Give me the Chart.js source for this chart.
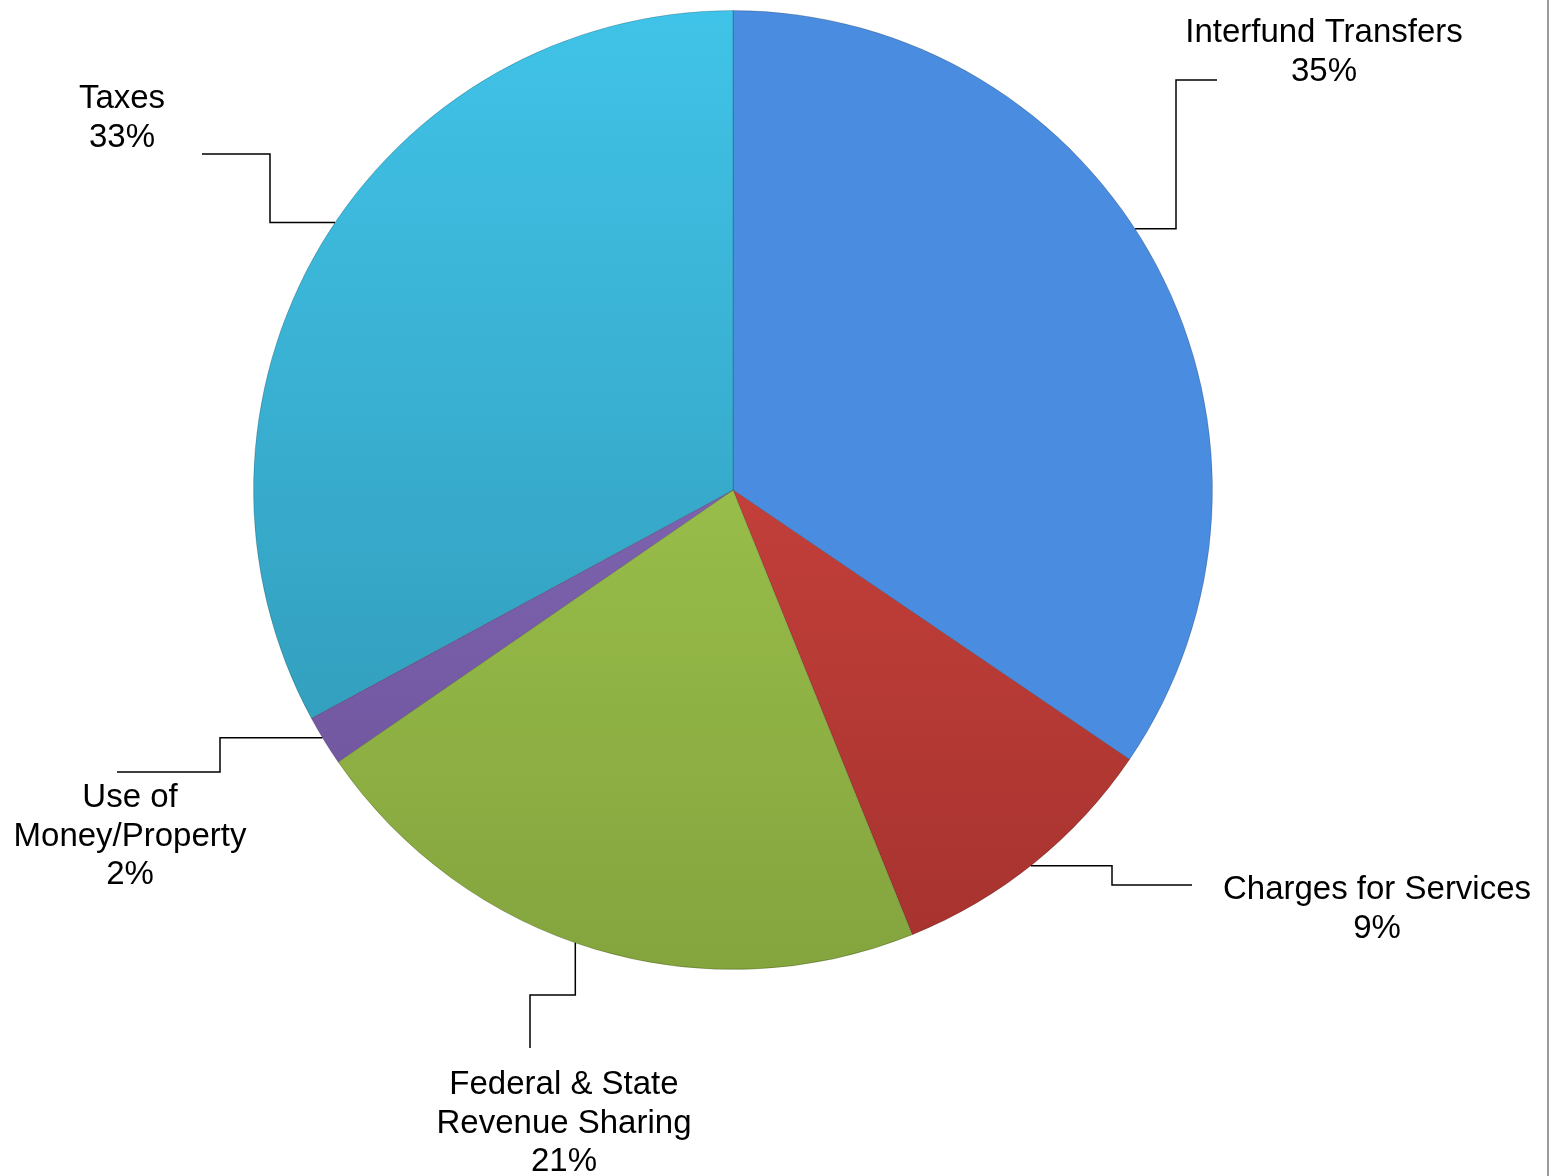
<!DOCTYPE html>
<html>
<head>
<meta charset="utf-8">
<script src="https://cdn.jsdelivr.net/npm/chart.js@4/dist/chart.umd.min.js"></script>
<style>
  html, body { margin: 0; padding: 0; background: #fff; }
  #wrap { width: 1547px; height: 1176px; border-right: 2px solid #9a9a9a; position: relative; }
</style>
</head>
<body>
<div id="wrap"><canvas id="pie"></canvas></div>
<script>
// datos del grafico
const categorias = ['Interfund Transfers', 'Charges for Services', 'Federal & State Revenue Sharing', 'Use of Money/Property', 'Taxes']
const valores = [34.5, 9.4, 21.5, 1.7, 32.9]
const etiquetas = [
  ['Interfund Transfers', '35%'],
  ['Charges for Services', '9%'],
  ['Federal & State', 'Revenue Sharing', '21%'],
  ['Use of', 'Money/Property', '2%'],
  ['Taxes', '33%']
]
// colores (arriba, abajo) del degradado
const coloresArriba = ['#4a8de0', '#e04c46', '#acd655', '#9077c8', '#40c3e8']
const coloresAbajo = ['#3262a6', '#a5322e', '#84a43e', '#6a4e96', '#2f93b0']

// posicion de los textos y lineas guia
const guias = [
  { ang: 57,    texto: [1324, 33],  pasos: [['h', 1176], ['v', 80], ['h', 1217]] },
  { ang: 141.6, texto: [1377, 890], pasos: [['h', 1112], ['v', 885], ['h', 1192]] },
  { ang: 199.2, texto: [564, 1085], pasos: [['v', 995], ['h', 530], ['v', 1048]] },
  { ang: 238.9, texto: [130, 798],  pasos: [['h', 220], ['v', 772], ['h', 117]] },
  { ang: 303.9, texto: [122, 99],   pasos: [['h', 270], ['v', 154], ['h', 202]] }
]

function degradado(ctx, i) {
  const chart = ctx.chart
  const arc = chart.getDatasetMeta(0).data[0]
  if (!arc || !arc.outerRadius) return coloresArriba[i]
  const g = chart.ctx.createLinearGradient(0, arc.y - arc.outerRadius, 0, arc.y + arc.outerRadius)
  g.addColorStop(0, coloresArriba[i])
  g.addColorStop(1, coloresAbajo[i])
  return g
}

const pluginEtiquetas = {
  id: 'etiquetas',
  afterDatasetsDraw(chart) {
    const ctx = chart.ctx
    const arc = chart.getDatasetMeta(0).data[0]
    const cx = arc.x, cy = arc.y, r = arc.outerRadius
    ctx.save()
    ctx.strokeStyle = '#000'
    ctx.lineWidth = 1.5
    guias.forEach((g, i) => {
      const a = g.ang * Math.PI / 180
      let x = cx + r * Math.sin(a)
      let y = cy - r * Math.cos(a)
      ctx.beginPath()
      ctx.moveTo(x, y)
      g.pasos.forEach(p => {
        if (p[0] === 'h') x = p[1]; else y = p[1]
        ctx.lineTo(x, y)
      })
      ctx.stroke()
      ctx.fillStyle = '#000'
      ctx.font = '33px "Liberation Sans", Arial, sans-serif'
      ctx.textAlign = 'center'
      ctx.textBaseline = 'middle'
      etiquetas[i].forEach((t, k) => {
        ctx.fillText(t, g.texto[0], g.texto[1] + k * 38.5)
      })
    })
    ctx.restore()
  }
}

const canvas = document.getElementById('pie')
new Chart(canvas, {
  type: 'pie',
  data: {
    labels: categorias,
    datasets: [{
      data: valores,
      backgroundColor: ctx => degradado(ctx, ctx.dataIndex),
      borderColor: 'rgba(0,0,0,0.18)',
      borderWidth: 1
    }]
  },
  options: {
    responsive: true,
    maintainAspectRatio: false,
    animation: false,
    layout: { padding: { left: 253, right: 334, top: 10, bottom: 206 } },
    plugins: {
      legend: { display: false },
      tooltip: { enabled: false }
    }
  },
  plugins: [pluginEtiquetas]
})
</script>
</body>
</html>
